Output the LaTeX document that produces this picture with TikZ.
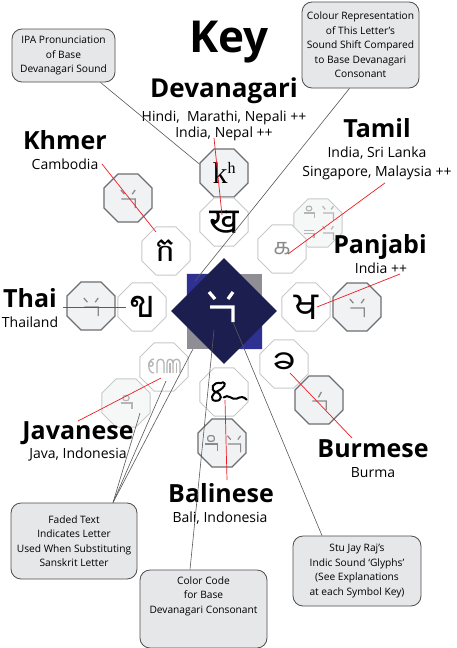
\documentclass[tikz,border=0pt]{standalone}
\usepackage{fontspec}
\setmainfont{Open Sans}
\newfontfamily\devafont[Script=Devanagari]{Noto Sans}
\newfontfamily\khmerfont[Script=Khmer]{Battambang}
\newfontfamily\thaifont[Script=Thai]{Loma}
\newfontfamily\gurufont[Script=Gurmukhi]{Hind Jalandhar}
\newfontfamily\tamilfont[Script=Tamil]{Hind Madurai}
\newfontfamily\burmfont[Script=Myanmar]{Noto Sans Myanmar UI}
\newfontfamily\ipafont{Liberation Serif}
\usetikzlibrary{shapes.geometric,calc}
\definecolor{navy}{HTML}{1C1E4F}
\definecolor{cblue}{HTML}{2E3192}
\definecolor{cgray}{HTML}{8E8E94}
\definecolor{octfill}{HTML}{F1F2F4}
\definecolor{octdark}{HTML}{6D6E71}
\definecolor{octlight}{HTML}{C7C8CA}
\definecolor{fadefill}{HTML}{F6F7F7}
\definecolor{fadetext}{HTML}{B5B5B5}
\definecolor{glyphgray}{HTML}{8A8A8C}
\definecolor{boxfill}{HTML}{E6E7E8}
\definecolor{boxline}{HTML}{4D4D4F}
\definecolor{linkgray}{HTML}{58595B}
\definecolor{keyred}{HTML}{ED1C24}
\tikzset{
  octo/.style={regular polygon, regular polygon sides=8, minimum size=52pt, inner sep=0pt},
  gocto/.style={octo, fill=octfill, draw=octdark, line width=1.2pt},
  locto/.style={octo, fill=white, draw=octlight, line width=1pt},
  focto/.style={octo, fill=fadefill, draw=octlight, line width=1pt},
  callout/.style={draw=boxline, fill=boxfill, rounded corners=10pt, line width=0.8pt, align=center,
    font=\fontsize{10.2}{14.5}\selectfont, inner sep=0pt},
  biglbl/.style={anchor=base, font=\fontsize{25}{25}\selectfont\bfseries},
  sublbl/.style={anchor=base, font=\fontsize{14}{16}\selectfont},
  link/.style={draw=linkgray, line width=0.6pt},
  redl/.style={draw=keyred, line width=0.7pt},
  gstroke/.style={color=glyphgray, line width=1.3pt},
  fstroke/.style={color=fadetext, line width=1.2pt},
  sglyph/.pic={\draw (-12,-15)--(-6,-8) (12,-15)--(7,-8) (-11,0)--(12,0)--(12,15);},
  sglyphone/.pic={\draw (4,-15)--(-1,-6) (-11,0)--(12,0)--(12,15);},
  oglyph/.pic={\draw[rounded corners=2pt] (-6,-15) rectangle (6,-5); \draw (-11,0)--(12,0)--(12,12);},
  eqglyph/.pic={\draw (-11,-6)--(11,-6) (-11,1)--(11,1)--(11,12);},
}
\begin{document}
\begin{tikzpicture}[x=1pt,y=-1pt]
\useasboundingbox (0,0) rectangle (456,648);
\fill[white] (0,0) rectangle (456,648);

% centre square and diamond
\node[rectangle, minimum size=75pt, inner sep=0pt, fill=cgray] (sq) at (224.5,311.5) {};
\fill[cblue] (sq.north west) -- (sq.north) -- (sq.west) -- cycle;
\fill[cblue] (sq.south east) -- (sq.south) -- (sq.east) -- cycle;
\node[diamond, aspect=1, minimum width=106pt, minimum height=106pt, inner sep=0pt, fill=navy] (dia) at (224,311) {};
\pic[color=white, line width=3.3pt] at (221,307) {sglyph};

% octagons
\node[gocto] (okh) at (224,173) {\ipafont\fontsize{30}{30}\selectfont k\raisebox{10pt}{\fontsize{16}{16}\selectfont h}};
\node[locto] (okha) at (224,222) {\devafont\fontsize{36}{36}\selectfont ख};
\node[gocto] (okhmg) at (128,198) {};
\node[locto] (okhm) at (166,251) {\khmerfont\fontsize{34}{34}\selectfont ក};
\node[gocto] (othg) at (91,306) {};
\node[locto] (othl) at (142,307) {\thaifont\fontsize{38}{38}\selectfont ข};
\node[locto] (oguru) at (306,307) {\gurufont\fontsize{38}{38}\selectfont ਖ};
\node[gocto] (opang) at (357,307) {};
\node[focto] (otamg) at (318,223) {};
\node[locto] (otam) at (282,249) {\color{glyphgray}\tamilfont\fontsize{22}{22}\selectfont க};
\node[locto] (obur) at (284,364) {\burmfont\fontsize{34}{34}\selectfont ခ};
\node[gocto] (oburg) at (319,400) {};
\node[locto] (obal) at (224,392) {};
\node[gocto] (obalg) at (222,443) {};
\node[locto] (ojav) at (164,367) {};
\node[focto] (ojavg) at (126,403) {};

% glyphs
\pic[gstroke, scale=0.6] at (128,199) {sglyph};
\pic[gstroke, scale=0.6] at (91,307) {sglyph};
\pic[gstroke, scale=0.6] at (357,308) {sglyph};
\pic[gstroke, scale=0.6] at (319,401) {sglyphone};
\pic[gstroke, scale=0.55, line width=1.2pt] at (211,444) {oglyph};
\pic[gstroke, scale=0.55, line width=1.2pt] at (234,444) {sglyph};
\pic[fstroke, scale=0.45] at (309,213) {oglyph};
\pic[fstroke, scale=0.45] at (328,213) {sglyph};
\pic[fstroke, scale=0.45] at (309,233) {eqglyph};
\pic[fstroke, scale=0.45] at (328,233) {sglyph};
\pic[fstroke, scale=0.5] at (126,403) {oglyph};

% Javanese letter (faded)
\begin{scope}[shift={(166,366)}, color=fadetext, line width=1.3pt]
  \draw (-15,-2) circle (2.2);
  \draw (-12,-7) .. controls (-19,-7) and (-19,7) .. (-12,7);
  \draw (-9,7) -- (-9,-3) .. controls (-9,-8) and (-2,-8) .. (-2,-3) -- (-2,7);
  \draw (1,7) -- (1,-3) .. controls (1,-8) and (7,-8) .. (7,-3) -- (7,7);
  \draw (7,-3) .. controls (7,-8) and (14,-8) .. (14,-3) -- (14,7);
  \draw (4,-3) -- (4,7) (10.5,-3) -- (10.5,7);
\end{scope}
% Balinese letter
\begin{scope}[shift={(228,392)}, line width=2pt, line cap=round, scale=1.1]
  \draw (-6,-8) .. controls (-14,-10) and (-17,-2) .. (-11,0) .. controls (-5,2) and (-5,8) .. (-11,8)
        .. controls (-17,8) and (-15,1) .. (-9,-1) .. controls (-3,-4) and (-1,-8) .. (-5,-9);
  \draw (-4,5) .. controls (0,1) and (4,8) .. (8,6) .. controls (12,4) and (14,4) .. (17,7);
\end{scope}

% titles and labels
\node[anchor=base, font=\fontsize{44}{44}\selectfont\bfseries] (key) at (229,52) {Key};
\node[biglbl, font=\fontsize{26}{26}\selectfont\bfseries] (devlbl) at (224,97) {Devanagari};
\node[sublbl] (devsub1) at (224,121) {Hindi,~ Marathi, Nepali ++};
\node[sublbl] (devsub2) at (224,137) {India, Nepal ++};
\node[biglbl] (khmlbl) at (65,149) {Khmer};
\node[sublbl] (cambodia) at (65,169) {Cambodia};
\node[biglbl] (thailbl) at (30,307) {Thai};
\node[sublbl] (thaisub) at (30,327) {Thailand};
\node[biglbl] (tamlbl) at (377,137) {Tamil};
\node[sublbl] (tamsub1) at (377,157) {India, Sri Lanka};
\node[sublbl] (tamsub2) at (377,176) {Singapore, Malaysia ++};
\node[biglbl] (panlbl) at (380,253) {Panjabi};
\node[sublbl] (pansub) at (381,273) {India ++};
\node[biglbl] (javlbl) at (78,439) {Javanese};
\node[sublbl] (javsub) at (78,458) {Java, Indonesia};
\node[biglbl] (burlbl) at (373,457) {Burmese};
\node[sublbl] (bursub) at (373,477) {Burma};
\node[biglbl] (ballbl) at (221,502) {Balinese};
\node[sublbl] (balsub) at (220,522) {Bali, Indonesia};

% callouts
\node[callout, minimum width=103pt, minimum height=53pt] (ipa) at (63.5,55.5) {IPA Pronunciation\\of Base\\Devanagari Sound};
\node[callout, minimum width=117pt, minimum height=86pt] (colour) at (360.5,45) {Colour Representation\\of This Letter’s\\Sound Shift Compared\\to Base Devanagari\\Consonant};
\node[callout, minimum width=126pt, minimum height=76pt] (faded) at (74,541) {Faded Text\\Indicates Letter\\Used When Substituting\\Sanskrit Letter};
\node[callout, minimum width=127pt, minimum height=78pt] (code) at (203.5,609) {Color Code\\for Base\\Devanagari Consonant\\[14pt]};
\node[callout, minimum width=128pt, minimum height=70pt] (stu) at (357,571) {Stu Jay Raj’s\\Indic Sound ‘Glyphs’\\(See Explanations\\at each Symbol Key)};

% grey connectors
\coordinate (bluecorner) at (195,281);
\coordinate (graycorner) at (193,349);
\coordinate (navypt) at (214,330);
\coordinate (glyphpt) at (233,322);
\draw[link] ($(ipa.south east)+(-15,0)$) -- (okh.160);
\draw[link] ($(colour.south)+(-11,0)$) -- (bluecorner);
\draw[link] ($(faded.north)+(39,0)$) -- (graycorner);
\draw[link] ($(faded.north)+(39,0)$) -- ($(ojav)+(2,14)$);
\draw[link] ($(faded.north)+(39,0)$) -- ($(ojavg)+(14,10)$);
\draw[link] ($(code.north)+(-13.5,0)$) -- (navypt);
\draw[link] ($(stu.north)+(-35,0)$) -- (glyphpt);

% red connectors
\draw[redl] ($(devsub2.base)+(-10,1)$) -- ($(okha)+(-2,-7)$);
\draw[redl] (cambodia.east) -- ($(okhm)+(-10,-19)$);
\draw[redl] ($(tamsub2.south)+(8,0)$) -- ($(otam)+(6,5)$);
\draw[redl] ($(pansub.base)+(19,1)$) -- ($(oguru)+(11,0)$);
\draw[redl] ($(thailbl.base east)+(3,0)$) -- ($(othl)+(-16,0)$);
\draw[redl] ($(obur)+(6,9)$) -- ($(burlbl.base)+(-21,-19)$);
\draw[redl] ($(obal)+(1,8)$) -- ($(ballbl.base)+(6,-22)$);
\draw[redl] ($(ojav)+(-3,11)$) -- ($(javlbl.base)+(0,-18)$);
\end{tikzpicture}
\end{document}
